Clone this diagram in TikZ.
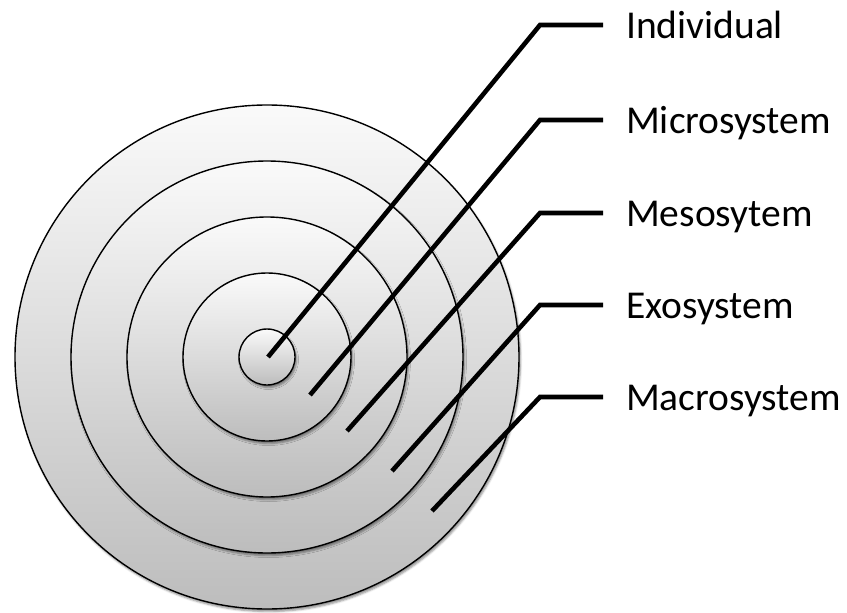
\documentclass[tikz,border=0pt]{standalone}
\usepackage{fontspec}
\setmainfont{Carlito}
\usepackage{tikz}
\usetikzlibrary{positioning, shadows.blur}

\begin{document}
\begin{tikzpicture}[
  x=1pt, y=-1pt,
  ring/.style={circle, draw, line width=1.4pt, inner sep=0pt,
    shading=axis, top color=black!2, bottom color=black!26,
    blur shadow={shadow xshift=1.5pt, shadow yshift=-2.5pt,
      shadow blur radius=2pt, shadow opacity=45}},
  leader/.style={line width=4.6pt, line join=miter},
  lbl/.style={anchor=base west, inner sep=0pt,
    font=\fontsize{39.5}{46}\selectfont},
]
  \useasboundingbox (0,0) rectangle (847,613);

  \coordinate (c) at (267,357);
  \node[ring, minimum size=504pt] (macro) at (c) {};
  \node[ring, minimum size=392pt] (exo)   at (c) {};
  \node[ring, minimum size=280pt] (meso)  at (c) {};
  \node[ring, minimum size=168pt] (micro) at (c) {};
  \node[ring, minimum size=56pt]  (ind)   at (c) {};

  % leader ends inside the rings
  \coordinate (s1) at (268,357);
  \coordinate (s2) at (310,395);
  \coordinate (s3) at (347,431);
  \coordinate (s4) at (392,471);
  \coordinate (s5) at (432,511);

  \coordinate (k1) at (540,25);
  \coordinate (k2) at (540,120);
  \coordinate (k3) at (540,213);
  \coordinate (k4) at (540,305);
  \coordinate (k5) at (540,397);

  \coordinate (e1) at (603,25);
  \coordinate (e2) at (603,120);
  \coordinate (e3) at (603,213);
  \coordinate (e4) at (603,305);
  \coordinate (e5) at (603,397);

  \node[lbl] (lind)   at (626,38)  {Individual};
  \node[lbl] (lmicro) at (626,133) {Microsystem};
  \node[lbl] (lmeso)  at (626,226) {Mesosytem};
  \node[lbl] (lexo)   at (626,318) {Exosystem};
  \node[lbl] (lmacro) at (626,410) {Macrosystem};

  \draw[leader] (s1) -- (k1) -- (e1);
  \draw[leader] (s2) -- (k2) -- (e2);
  \draw[leader] (s3) -- (k3) -- (e3);
  \draw[leader] (s4) -- (k4) -- (e4);
  \draw[leader] (s5) -- (k5) -- (e5);
\end{tikzpicture}
\end{document}
